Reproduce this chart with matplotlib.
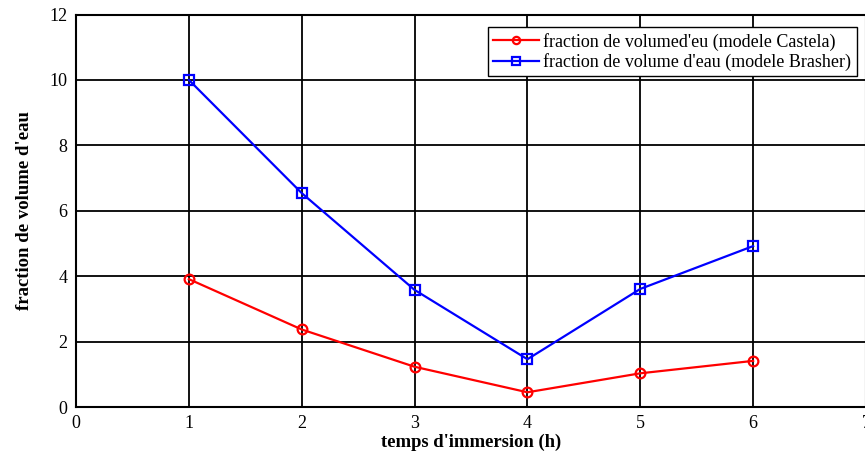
import matplotlib.pyplot as plt

# Données : fraction de volume d'eau selon le temps d'immersion
temps = [1, 2, 3, 4, 5, 6]
castela = [3.91, 2.37, 1.23, 0.45, 1.03, 1.41]
brasher = [10.0, 6.54, 3.58, 1.46, 3.61, 4.92]

plt.rcParams['font.family'] = ['Liberation Serif', 'DejaVu Serif']

fig = plt.figure(figsize=(8.65, 4.54), dpi=100)
ax = fig.add_axes([76 / 865, 1 - 407 / 454, 790 / 865, 392.5 / 454])

ax.plot(temps, castela, color='red', linewidth=1.6, marker='o', markersize=7,
        markerfacecolor='none', markeredgewidth=1.6,
        label="fraction de volumed'eu (modele Castela)")
ax.plot(temps, brasher, color='blue', linewidth=1.6, marker='s', markersize=7,
        markerfacecolor='none', markeredgewidth=1.6,
        label="fraction de volume d'eau (modele Brasher)")

ax.set_xlim(0, 7)
ax.set_ylim(0, 12)
ax.set_xticks(range(0, 8))
ax.set_yticks(range(0, 13, 2))
ax.tick_params(length=0, labelsize=13, pad=6)
ax.grid(True, color='black', linestyle='-', linewidth=1.3)
for s in ax.spines.values():
    s.set_linewidth(1.5)

ax.set_xlabel("temps d'immersion (h)", fontsize=13.4, fontweight='bold', labelpad=1)
ax.set_ylabel("fraction de volume d'eau", fontsize=13.5, fontweight='bold', labelpad=12)

leg = ax.legend(loc='upper right', bbox_to_anchor=(0.988, 0.967),
                fontsize=13, fancybox=False, framealpha=1, edgecolor='black',
                borderpad=0.3, labelspacing=0.12, handlelength=2.5,
                handletextpad=0.25, borderaxespad=0, markerscale=0.75)
leg.get_frame().set_linewidth(1.0)

fig.savefig('out.png', dpi=100)
